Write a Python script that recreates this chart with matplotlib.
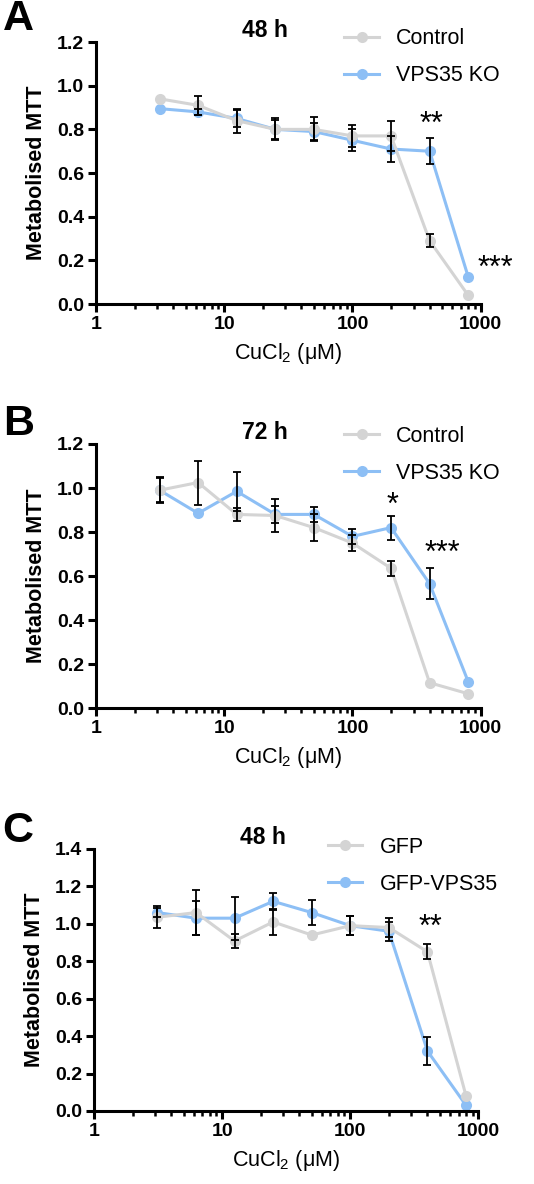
import numpy as np
import matplotlib
matplotlib.use("Agg")
import matplotlib.pyplot as plt
from matplotlib.ticker import LogLocator, NullFormatter, FixedLocator, FormatStrFormatter

plt.rcParams["font.family"] = ["Liberation Sans", "DejaVu Sans"]
plt.rcParams["mathtext.fontset"] = "custom"
plt.rcParams["mathtext.rm"] = "Liberation Sans"
plt.rcParams["mathtext.default"] = "regular"

GREY = "#d4d4d4"
BLUE = "#8dbff5"

conc = [3.125, 6.25, 12.5, 25, 50, 100, 200, 400, 800]

# panel A, 48 h
a_ctrl = [0.94, 0.91, 0.84, 0.80, 0.80, 0.77, 0.77, 0.29, 0.04]
a_ctrl_err = [0.0, 0.045, 0.055, 0.05, 0.055, 0.05, 0.07, 0.03, 0.0]
a_ko = [0.895, 0.88, 0.85, 0.80, 0.79, 0.75, 0.71, 0.70, 0.125]
a_ko_err = [0.0, 0.015, 0.04, 0.045, 0.04, 0.05, 0.06, 0.06, 0.0]

# panel B, 72 h
b_ctrl = [0.99, 1.025, 0.88, 0.875, 0.82, 0.75, 0.635, 0.115, 0.065]
b_ctrl_err = [0.06, 0.10, 0.03, 0.075, 0.06, 0.035, 0.035, 0.0, 0.0]
b_ko = [0.99, 0.885, 0.985, 0.88, 0.88, 0.78, 0.82, 0.565, 0.12]
b_ko_err = [0.055, 0.0, 0.09, 0.04, 0.035, 0.035, 0.055, 0.07, 0.0]

# panel C, 48 h rescue
c_gfp = [1.035, 1.06, 0.908, 1.01, 0.94, 0.99, 0.98, 0.85, 0.08]
c_gfp_err = [0.06, 0.12, 0.035, 0.07, 0.0, 0.05, 0.05, 0.04, 0.0]
c_vps = [1.06, 1.03, 1.03, 1.12, 1.06, 0.99, 0.96, 0.32, 0.03]
c_vps_err = [0.025, 0.09, 0.115, 0.045, 0.066, 0.05, 0.05, 0.073, 0.0]


def draw_panel(ax, grey_y, grey_err, blue_y, blue_err, names, title, ymax, stars, leg_y):
    kw = dict(marker="o", markersize=8, lw=2.2, markeredgewidth=0)
    ax.plot(conc, blue_y, color=BLUE, label=names[1], zorder=2, **kw)
    ax.plot(conc, grey_y, color=GREY, label=names[0], zorder=3, **kw)
    x = np.array(conc)
    for y, e in ((grey_y, grey_err), (blue_y, blue_err)):
        y, e = np.array(y), np.array(e)
        keep = e > 0  # points without a visible bar
        ax.errorbar(x[keep], y[keep], yerr=e[keep], fmt="none", ecolor="black",
                    elinewidth=1.3, capsize=3, capthick=1.3, zorder=4)

    for sx, sy, s in stars:
        ax.text(sx, sy, s, ha="center", va="center", fontsize=22, zorder=5)

    ax.set_xscale("log")
    ax.set_xlim(1, 1000)
    ax.set_ylim(0, ymax)
    ax.xaxis.set_major_locator(FixedLocator([1, 10, 100, 1000]))
    ax.xaxis.set_major_formatter(FormatStrFormatter("%d"))
    ax.xaxis.set_minor_locator(LogLocator(base=10, subs=np.arange(2, 10)))
    ax.xaxis.set_minor_formatter(NullFormatter())
    ax.set_yticks(np.arange(0, ymax + 0.01, 0.2))
    ax.yaxis.set_major_formatter(FormatStrFormatter("%.1f"))

    for side in ("top", "right"):
        ax.spines[side].set_visible(False)
    for side in ("left", "bottom"):
        ax.spines[side].set_linewidth(2.2)
    ax.tick_params(which="major", length=6, width=2.2, labelsize=14, pad=2.5)
    ax.tick_params(which="minor", length=3.5, width=1.8)
    for lab in ax.get_xticklabels() + ax.get_yticklabels():
        lab.set_fontweight("bold")

    ax.set_ylabel("Metabolised MTT", fontsize=15.5, fontweight="bold", labelpad=7)
    ax.set_xlabel(r"CuCl$_2$ ($\mu$M)", fontsize=15.5, labelpad=6)
    ax.set_title(title, fontsize=16.5, fontweight="bold", pad=3, x=0.44)

    handles, labels = ax.get_legend_handles_labels()
    ax.legend(handles[::-1], labels[::-1], loc="upper right",
              bbox_to_anchor=(1.10, leg_y), frameon=False, fontsize=15.5,
              handlelength=1.6, handletextpad=0.8, labelspacing=0.75)


fig = plt.figure(figsize=(5.34, 11.84), dpi=100)

ax_a = fig.add_axes([0.180, 0.7432, 0.720, 0.2213])
draw_panel(ax_a, a_ctrl, a_ctrl_err, a_ko, a_ko_err, ["Control", "VPS35 KO"],
           "48 h", 1.2, [(410, 0.82, "**"), (1300, 0.16, "***")], 1.127)

ax_b = fig.add_axes([0.180, 0.402, 0.720, 0.223])
draw_panel(ax_b, b_ctrl, b_ctrl_err, b_ko, b_ko_err, ["Control", "VPS35 KO"],
           "72 h", 1.2, [(205, 0.92, "*"), (500, 0.70, "***")], 1.143)

ax_c = fig.add_axes([0.176, 0.0617, 0.720, 0.2213])
draw_panel(ax_c, c_gfp, c_gfp_err, c_vps, c_vps_err, ["GFP", "GFP-VPS35"],
           "48 h", 1.4, [(420, 0.98, "**")], 1.12)

for lab, y in (("A", 0.984), ("B", 0.642), ("C", 0.298)):
    fig.text(0.005, y, lab, fontsize=31, fontweight="bold", va="center")

fig.savefig("out.png", dpi=100)
